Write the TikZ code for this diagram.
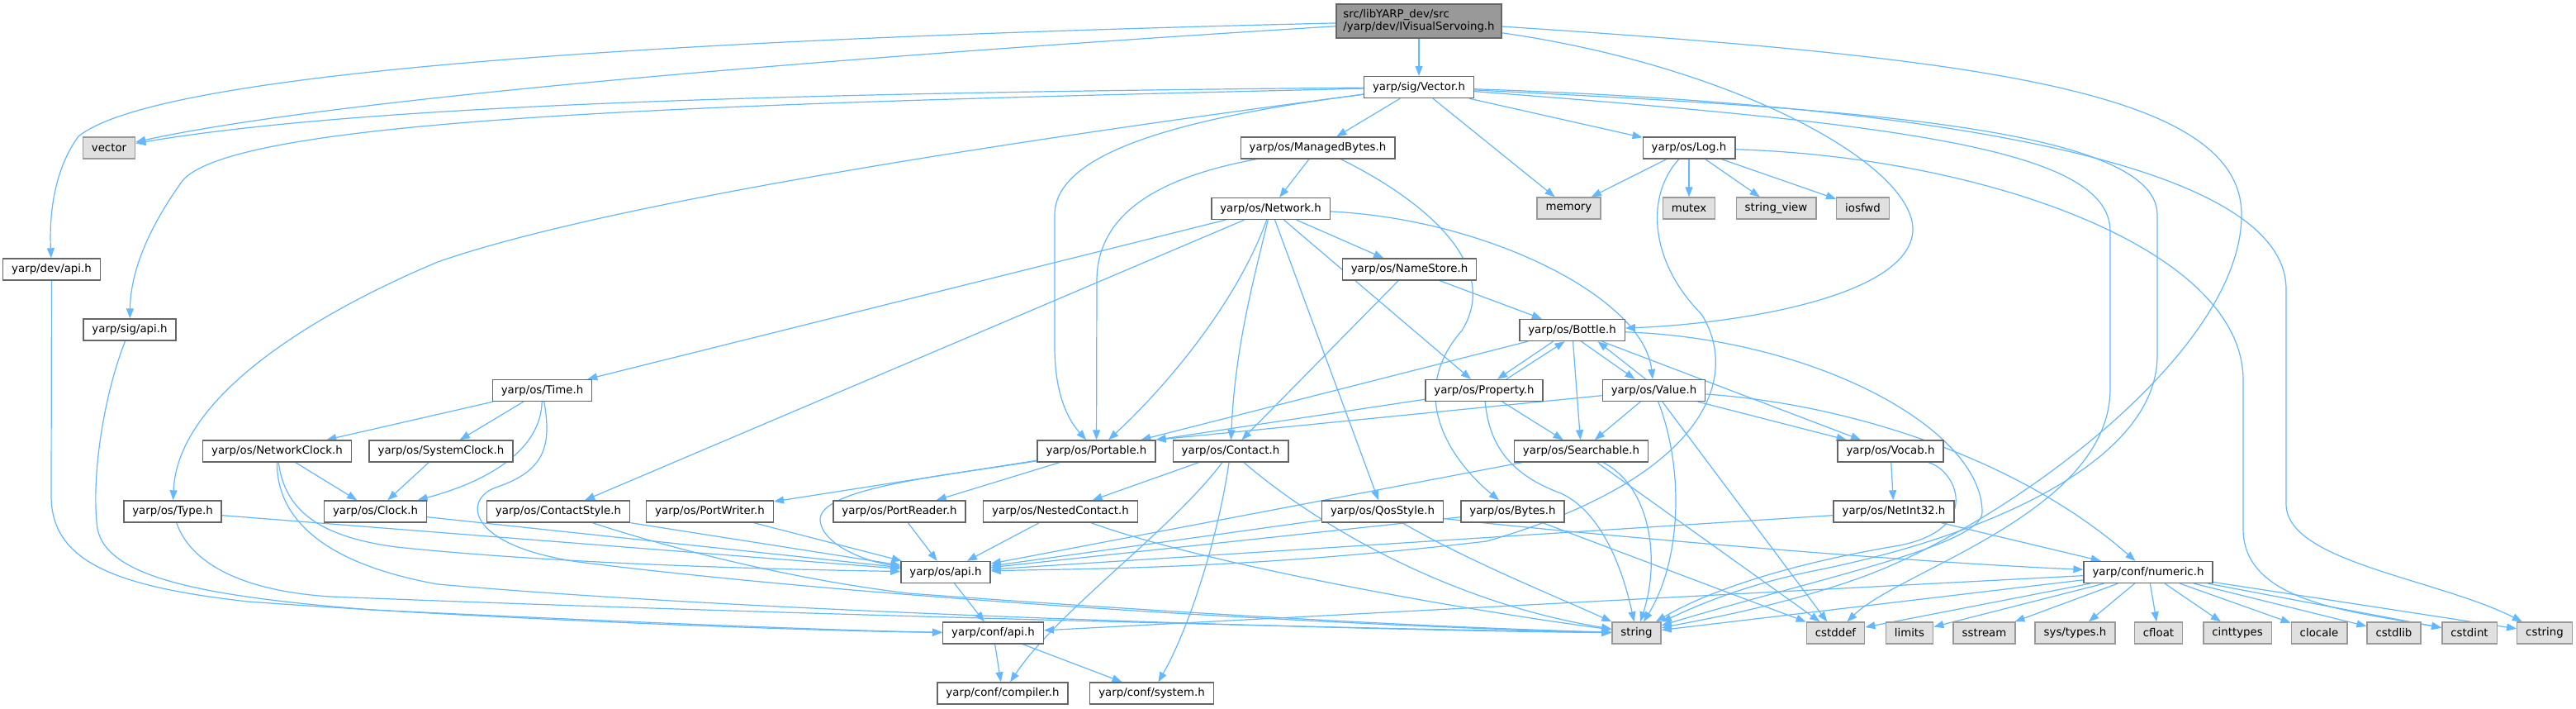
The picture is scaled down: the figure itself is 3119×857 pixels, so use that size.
\documentclass[tikz,border=0pt]{standalone}
\usepackage{fontspec}
\setmainfont{DejaVu Sans}
\usetikzlibrary{arrows.meta}
\definecolor{edgec}{HTML}{63B8FF}
\definecolor{bordn}{HTML}{666666}
\definecolor{borde}{HTML}{999999}
\definecolor{fille}{HTML}{E0E0E0}
\definecolor{fillr}{HTML}{999999}
\pgfdeclarelayer{bg}
\pgfsetlayers{bg,main}
\begin{document}
\begin{tikzpicture}[x=1pt,y=-1pt,
  nd/.style={draw=bordn, fill=white, line width=1.4pt, rectangle, inner xsep=10.5pt, inner ysep=0pt,
     minimum height=26pt, font=\fontsize{13.33}{15.5}\selectfont},
  ext/.style={nd, draw=borde, fill=fille},
  rootn/.style={nd, fill=fillr, minimum width=200pt, minimum height=41pt, align=left, inner xsep=6pt},
  edg/.style={draw=edgec, line width=1.2pt, -{Triangle[length=12pt,width=9pt]}}]
\useasboundingbox (0,0) rectangle (3119,857);
% nodes
\node[rootn] (root) at (1718,25.5) {src/libYARP\_dev/src\\/yarp/dev/IVisualServoing.h};
\node[nd] (vec) at (1718,105.5) {yarp/sig/Vector.h};
\node[nd] (mb) at (1595.5,179) {yarp/os/ManagedBytes.h};
\node[nd] (log) at (2045,179) {yarp/os/Log.h};
\node[ext] (vecstd) at (132,179) {vector};
\node[ext] (memory) at (1899.5,252) {memory};
\node[ext] (mutex) at (2045,252) {mutex};
\node[ext] (sview) at (2150.5,252) {string\_view};
\node[ext] (iosfwd) at (2255.5,252) {iosfwd};
\node[nd] (devapi) at (62.5,326) {yarp/dev/api.h};
\node[nd] (sigapi) at (157,399) {yarp/sig/api.h};
\node[nd] (net) at (1538.5,252.5) {yarp/os/Network.h};
\node[nd] (nstore) at (1706.5,326) {yarp/os/NameStore.h};
\node[nd] (bottle) at (1903.5,399.5) {yarp/os/Bottle.h};
\node[nd] (time) at (656.5,472.5) {yarp/os/Time.h};
\node[nd] (prop) at (1797,472.5) {yarp/os/Property.h};
\node[nd] (value) at (2002.5,472.5) {yarp/os/Value.h};
\node[nd] (nclock) at (335.5,546) {yarp/os/NetworkClock.h};
\node[nd] (sclock) at (534,546) {yarp/os/SystemClock.h};
\node[nd] (portable) at (1327.5,546) {yarp/os/Portable.h};
\node[nd] (contact) at (1490,546) {yarp/os/Contact.h};
\node[nd] (search) at (1914.5,546) {yarp/os/Searchable.h};
\node[nd] (vocab) at (2289,546) {yarp/os/Vocab.h};
\node[nd] (type) at (209,619) {yarp/os/Type.h};
\node[nd] (clock) at (454.5,619) {yarp/os/Clock.h};
\node[nd] (cstyle) at (676,619) {yarp/os/ContactStyle.h};
\node[nd] (pwriter) at (859.5,619) {yarp/os/PortWriter.h};
\node[nd] (preader) at (1089,619) {yarp/os/PortReader.h};
\node[nd] (nested) at (1284,619) {yarp/os/NestedContact.h};
\node[nd] (qos) at (1674,619) {yarp/os/QosStyle.h};
\node[nd] (bytes) at (1831.5,619) {yarp/os/Bytes.h};
\node[nd] (netint) at (2293,619) {yarp/os/NetInt32.h};
\node[nd] (osapi) at (1145,692.5) {yarp/os/api.h};
\node[nd] (numeric) at (2601,692.5) {yarp/conf/numeric.h};
\node[nd] (confapi) at (1202.5,766) {yarp/conf/api.h};
\node[ext] (string) at (1981.5,766) {string};
\node[ext] (cstddef) at (2222.5,766) {cstddef};
\node[ext] (limits) at (2312,766) {limits};
\node[ext] (sstream) at (2402.5,766) {sstream};
\node[ext] (systypes) at (2512.5,766) {sys/types.h};
\node[ext] (cfloat) at (2613.5,766) {cfloat};
\node[ext] (cinttypes) at (2709,766) {cinttypes};
\node[ext] (clocale) at (2808,766) {clocale};
\node[ext] (cstdlib) at (2898.5,766) {cstdlib};
\node[ext] (cstdint) at (2990,766) {cstdint};
\node[ext] (cstring) at (3081,766) {cstring};
\node[nd] (compiler) at (1214,839) {yarp/conf/compiler.h};
\node[nd] (system) at (1394.5,839) {yarp/conf/system.h};
\begin{pgfonlayer}{bg}
\fill[white] (0,0) rectangle (3119,857);
% root
\draw[edg] (root) .. controls (900,45) and (200,80) .. (95,165) .. controls (62,210) and (60,270) .. (devapi);
\draw[edg] (root) .. controls (1000,70) and (400,120) .. (vecstd);
\draw[edg] (root) -- (vec);
\draw[edg] (root) .. controls (2100,80) and (2320,200) .. (2316,280) .. controls (2310,360) and (2100,392) .. (bottle);
\draw[edg] (root) .. controls (2400,70) and (2714,110) .. (2714,260) .. controls (2714,430) and (2420,640) .. (2250,700) .. controls (2150,735) and (2060,750) .. (string);
% Vector.h
\draw[edg] (vec) .. controls (1000,112) and (450,125) .. (vecstd);
\draw[edg] (vec) .. controls (900,125) and (280,140) .. (220,220) .. controls (170,290) and (158,340) .. (sigapi);
\draw[edg] (vec) .. controls (1300,160) and (750,240) .. (530,317) .. controls (380,380) and (215,480) .. (type);
\draw[edg] (vec) .. controls (1450,140) and (1277,180) .. (1277,260) -- (1277,420) .. controls (1277,480) and (1295,510) .. (portable);
\draw[edg] (vec) -- (mb);
\draw[edg] (vec) -- (memory);
\draw[edg] (vec) -- (log);
\draw[edg] (vec) .. controls (2300,125) and (2768,190) .. (2768,350) -- (2768,610) .. controls (2768,680) and (2950,700) .. (cstring);
\draw[edg] (vec) .. controls (2200,130) and (2612,150) .. (2612,260) -- (2612,430) .. controls (2612,560) and (2400,650) .. (2200,690) .. controls (2100,710) and (2040,740) .. (string);
\draw[edg] (vec) .. controls (2300,150) and (2555,180) .. (2555,280) -- (2555,470) .. controls (2555,620) and (2300,690) .. (cstddef);
% ManagedBytes
\draw[edg] (mb) -- (net);
\draw[edg] (mb) .. controls (1400,215) and (1328,260) .. (1328,340) -- (portable);
\draw[edg] (mb) .. controls (1720,240) and (1820,320) .. (1770,400) .. controls (1700,480) and (1760,560) .. (bytes);
% Log
\draw[edg] (log) -- (memory);
\draw[edg] (log) -- (mutex);
\draw[edg] (log) -- (sview);
\draw[edg] (log) -- (iosfwd);
\draw[edg] (log) .. controls (1990,240) and (2000,320) .. (2060,380) .. controls (2110,460) and (2060,580) .. (1800,655) .. controls (1500,690) and (1300,688) .. (osapi);
\draw[edg] (log) .. controls (2400,190) and (2716,300) .. (2716,460) -- (2716,640) .. controls (2716,730) and (2850,740) .. (cstdint);
% Network
\draw[edg] (net) -- (time);
\draw[edg] (net) -- (cstyle);
\draw[edg] (net) .. controls (1500,360) and (1420,460) .. (portable);
\draw[edg] (net) .. controls (1520,330) and (1495,420) .. (contact);
\draw[edg] (net) -- (qos);
\draw[edg] (net) -- (prop);
\draw[edg] (net) -- (nstore);
\draw[edg] (net) .. controls (1800,265) and (1990,360) .. (value);
% NameStore
\draw[edg] (nstore) -- (contact);
\draw[edg] (nstore) -- (bottle);
% Bottle
\draw[edg] (bottle) -- (portable);
\draw[edg] ([xshift=-23pt]bottle.south) -- ([xshift=16pt]prop.north);
\draw[edg] ([xshift=27pt]prop.north) -- ([xshift=-9pt]bottle.south);
\draw[edg] (bottle) -- (search);
\draw[edg] ([xshift=11pt]bottle.south) -- ([xshift=-23pt]value.north);
\draw[edg] ([xshift=-10pt]value.north) -- ([xshift=31pt]bottle.south);
\draw[edg] (bottle) -- (vocab);
\draw[edg] (bottle) .. controls (2200,410) and (2400,520) .. (2400,620) .. controls (2400,660) and (2200,700) .. (string);
% Property
\draw[edg] (prop) -- (portable.north east);
\draw[edg] (prop) -- (search);
\draw[edg] (prop) .. controls (1803,540) and (1830,575) .. (1890,597) .. controls (1940,620) and (1965,690) .. (string);
% Value
\draw[edg] (value) -- (portable.north east);
\draw[edg] (value) -- (search);
\draw[edg] (value) .. controls (2040,570) and (2035,680) .. (string);
\draw[edg] (value) -- (cstddef);
\draw[edg] (value) -- (vocab);
\draw[edg] (value) .. controls (2250,490) and (2450,560) .. (numeric);
% Searchable
\draw[edg] (search) -- (osapi);
\draw[edg] (search) .. controls (2000,590) and (2010,680) .. (string);
\draw[edg] (search) -- (cstddef);
% Vocab
\draw[edg] (vocab) -- (netint);
\draw[edg] (vocab) .. controls (2370,570) and (2400,640) .. (2300,660) .. controls (2150,685) and (2060,720) .. (string);
% NetInt32
\draw[edg] (netint) -- (osapi);
\draw[edg] (netint) -- (numeric);
% Portable
\draw[edg] (portable) -- (pwriter);
\draw[edg] (portable) -- (preader);
\draw[edg] (portable) .. controls (1150,575) and (990,590) .. (993,630) .. controls (996,660) and (1050,680) .. (osapi);
% Contact
\draw[edg] (contact) -- (nested);
\draw[edg] (contact) .. controls (1420,640) and (1280,740) .. (compiler);
\draw[edg] (contact) .. controls (1475,650) and (1440,760) .. (system);
\draw[edg] (contact) .. controls (1600,640) and (1760,730) .. (string);
% NestedContact
\draw[edg] (nested) -- (osapi);
\draw[edg] (nested) .. controls (1450,680) and (1750,735) .. (string);
% QosStyle
\draw[edg] (qos) -- (osapi);
\draw[edg] (qos) .. controls (1780,680) and (1880,720) .. (string);
\draw[edg] (qos) .. controls (1900,645) and (2300,680) .. (numeric);
% Bytes
\draw[edg] (bytes) -- (osapi);
\draw[edg] (bytes) -- (cstddef);
% Time
\draw[edg] (time) -- (nclock);
\draw[edg] (time) -- (sclock);
\draw[edg] (time) .. controls (655,540) and (600,580) .. (clock);
\draw[edg] (time) .. controls (668,540) and (660,570) .. (600,590) .. controls (560,605) and (565,660) .. (700,680) .. controls (1100,730) and (1700,760) .. (string);
% NetworkClock
\draw[edg] (nclock) -- (clock);
\draw[edg] (nclock) .. controls (345,620) and (390,650) .. (480,662) .. controls (700,685) and (1000,690) .. (osapi);
\draw[edg] (nclock) .. controls (335,620) and (380,680) .. (530,707) .. controls (900,740) and (1600,762) .. (string);
% SystemClock, Clock
\draw[edg] (sclock) -- (clock);
\draw[edg] (clock) -- (osapi);
% Type
\draw[edg] (type) -- (osapi);
\draw[edg] (type) .. controls (230,680) and (290,715) .. (400,722) .. controls (900,742) and (1600,760) .. (string);
% ContactStyle
\draw[edg] (cstyle) -- (osapi);
\draw[edg] (cstyle) .. controls (800,660) and (950,700) .. (1100,718) .. controls (1400,740) and (1700,758) .. (string);
% PortWriter, PortReader
\draw[edg] (pwriter) -- (osapi);
\draw[edg] (preader) -- (osapi);
% api headers
\draw[edg] (devapi) -- (62,600) .. controls (62,680) and (140,710) .. (300,728) .. controls (600,750) and (1000,764) .. (confapi);
\draw[edg] (sigapi) .. controls (125,480) and (110,580) .. (118,640) .. controls (130,700) and (250,722) .. (450,738) .. controls (800,755) and (1050,764) .. (confapi);
\draw[edg] (osapi) -- (confapi);
\draw[edg] (confapi) -- (compiler);
\draw[edg] (confapi) -- (system);
% numeric
\draw[edg] (numeric) -- (confapi);
\draw[edg] (numeric) -- (string);
\draw[edg] (numeric) -- (cstddef);
\draw[edg] (numeric) -- (limits);
\draw[edg] (numeric) -- (sstream);
\draw[edg] (numeric) -- (systypes);
\draw[edg] (numeric) -- (cfloat);
\draw[edg] (numeric) -- (cinttypes);
\draw[edg] (numeric) -- (clocale);
\draw[edg] (numeric) -- (cstdlib);
\draw[edg] (numeric) -- (cstdint);
\draw[edg] (numeric) -- (cstring);
\end{pgfonlayer}
\end{tikzpicture}
\end{document}
